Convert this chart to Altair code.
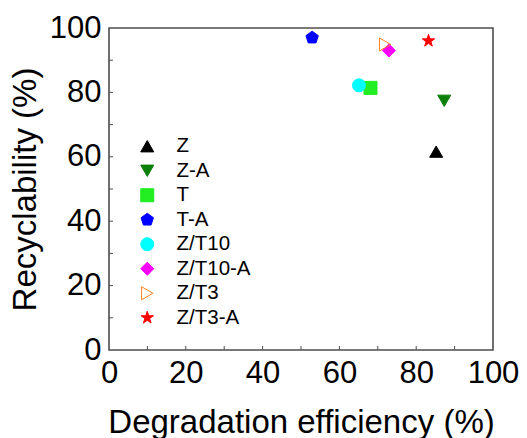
import altair as alt
import pandas as pd

# Samples and their measured performance
samples = ["Z", "Z-A", "T", "T-A", "Z/T10", "Z/T10-A", "Z/T3", "Z/T3-A"]
degradation = [85.2, 87.3, 68.1, 52.9, 65.1, 72.9, 71.9, 83.2]
recyclability = [61.6, 77.4, 81.4, 97.0, 82.2, 93.0, 94.9, 96.0]

# Marker styling per sample
pentagon = "M0,-1L0.951,-0.309L0.588,0.809L-0.588,0.809L-0.951,-0.309Z"
star = ("M0,-1L0.225,-0.309L0.951,-0.309L0.363,0.118L0.588,0.809L0,0.382"
        "L-0.588,0.809L-0.363,0.118L-0.951,-0.309L-0.225,-0.309Z")
shapes = ["triangle-up", "triangle-down", "square", pentagon,
          "circle", "diamond", "triangle-right", star]
fills = ["#000000", "#0a7f0a", "#22ee22", "#0000ff",
         "#00ffff", "#ff00ff", "transparent", "#ff0000"]
strokes = ["#000000", "#0a7f0a", "#22ee22", "#0000ff",
           "#00ffff", "#ff00ff", "#ff8020", "#ff0000"]
sizes = [170, 170, 100, 190, 110, 140, 160, 180]

# Minor tick positions (drawn inside the frame)
tick_values = [10, 20, 30, 40, 50, 60, 70, 80, 90]

W, H = 384, 322
FONT = "Liberation Sans"

df = pd.DataFrame({"sample": samples, "deg": degradation, "rec": recyclability})
ticks = pd.DataFrame({"v": tick_values})

xscale = alt.Scale(domain=[0, 100], nice=False)
yscale = alt.Scale(domain=[0, 100], nice=False)

legend = alt.Legend(
    title=None, orient="none", legendX=28, legendY=108,
    labelFontSize=20.5, labelFont=FONT, labelColor="black",
    rowPadding=3.5, labelOffset=19, symbolStrokeWidth=1,
)

points = alt.Chart(df).mark_point(opacity=1, strokeWidth=1).encode(
    x=alt.X("deg:Q", scale=xscale,
            axis=alt.Axis(title="Degradation efficiency (%)", values=[0, 20, 40, 60, 80, 100],
                          ticks=False, domain=False, grid=False, labelPadding=8,
                          labelFontSize=31, titleFontSize=33, titlePadding=18,
                          labelFlush=False)),
    y=alt.Y("rec:Q", scale=yscale,
            axis=alt.Axis(title="Recyclability (%)", values=[0, 20, 40, 60, 80, 100],
                          ticks=False, domain=False, grid=False, labelPadding=8,
                          labelFontSize=31, titleFontSize=33, titlePadding=7,
                          labelFlush=False)),
    shape=alt.Shape("sample:N", scale=alt.Scale(domain=samples, range=shapes), legend=legend),
    fill=alt.Fill("sample:N", scale=alt.Scale(domain=samples, range=fills), legend=legend),
    stroke=alt.Stroke("sample:N", scale=alt.Scale(domain=samples, range=strokes), legend=legend),
    size=alt.Size("sample:N", scale=alt.Scale(domain=samples, range=sizes), legend=legend),
)

tick_color = "#4d4d4d"
xticks = alt.Chart(ticks).mark_rule(color=tick_color, strokeWidth=1).encode(
    x=alt.X("v:Q", scale=xscale), y=alt.value(H), y2=alt.value(H - 4))
yticks = alt.Chart(ticks).mark_rule(color=tick_color, strokeWidth=1).encode(
    y=alt.Y("v:Q", scale=yscale), x=alt.value(0), x2=alt.value(4))

chart = alt.layer(xticks, yticks, points).properties(
    width=W, height=H,
    autosize=alt.AutoSizeParams(type="none"),
    padding={"left": 109, "top": 28, "right": 34, "bottom": 88},
).configure_view(
    stroke="#4d4d4d", strokeWidth=1.6
).configure_axis(
    labelFont=FONT, titleFont=FONT, labelColor="black", titleColor="black",
    titleFontWeight="normal",
)

chart.save("out.html", embed_options={"renderer": "svg", "actions": False})
